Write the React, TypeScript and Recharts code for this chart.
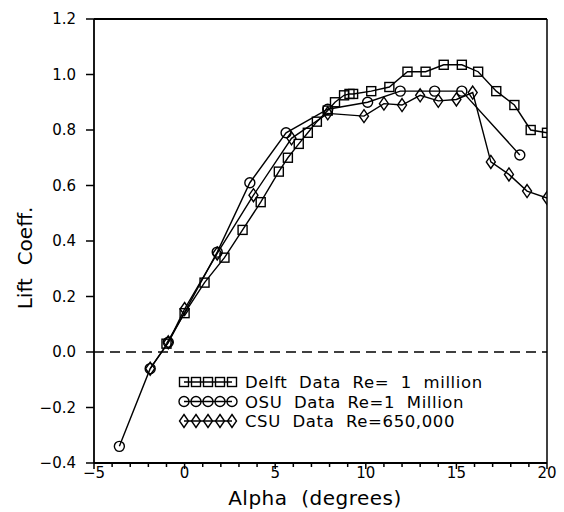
import React from 'react';
import { LineChart, Line, XAxis, YAxis, ReferenceLine } from 'recharts';

// angle of attack (deg) and lift coefficient
const delftAlpha = [-1, 0, 1.1, 2.2, 3.2, 4.2, 5.2, 5.7, 6.3, 6.8, 7.3, 7.9, 8.3, 8.8, 9.1, 9.3, 10.3, 11.3, 12.3, 13.3, 14.3, 15.3, 16.2, 17.2, 18.2, 19.1, 20.0];
const delftCl = [0.03, 0.14, 0.25, 0.34, 0.44, 0.54, 0.65, 0.7, 0.75, 0.79, 0.83, 0.87, 0.9, 0.925, 0.93, 0.93, 0.94, 0.955, 1.01, 1.01, 1.035, 1.035, 1.01, 0.94, 0.89, 0.8, 0.79];

const osuAlpha = [-3.6, -1.9, -0.9, 1.8, 3.6, 5.6, 7.9, 10.1, 11.9, 13.8, 15.3, 18.5];
const osuCl = [-0.34, -0.06, 0.035, 0.36, 0.61, 0.79, 0.875, 0.9, 0.94, 0.94, 0.94, 0.71];

const csuAlpha = [-1.9, -0.9, 0, 1.8, 3.8, 5.9, 7.9, 9.9, 11.0, 12.0, 13.0, 14.0, 15.0, 15.9, 16.9, 17.9, 18.9, 20.0];
const csuCl = [-0.06, 0.035, 0.155, 0.355, 0.565, 0.77, 0.86, 0.85, 0.895, 0.89, 0.925, 0.905, 0.91, 0.935, 0.685, 0.64, 0.58, 0.555];

const xTicks = Array.from({ length: 26 }, (_, i) => i - 5);
const yTicks = [-0.4, -0.2, 0, 0.2, 0.4, 0.6, 0.8, 1.0, 1.2];

const legendRows = [
  { shape: 'square', label: 'Delft  Data  Re=  1  million' },
  { shape: 'circle', label: 'OSU  Data  Re=1  Million' },
  { shape: 'diamond', label: 'CSU  Data  Re=650,000' },
];

const FONT = '"DejaVu Sans", sans-serif';
const INK = '#000';

const toRows = (xs: number[], ys: number[]) => xs.map((alpha, i) => ({ alpha, cl: ys[i] }));
const delft = toRows(delftAlpha, delftCl);
const osu = toRows(osuAlpha, osuCl);
const csu = toRows(csuAlpha, csuCl);

const minus = (s: string) => s.replace('-', '\u2212');

function Marker({ shape, cx, cy }: { shape: string; cx: number; cy: number }) {
  if (shape === 'square') {
    return <rect x={cx - 4.5} y={cy - 4.5} width={9} height={9} fill="none" stroke={INK} strokeWidth={1.4} />;
  }
  if (shape === 'circle') {
    return <circle cx={cx} cy={cy} r={5} fill="none" stroke={INK} strokeWidth={1.4} />;
  }
  return (
    <polygon
      points={`${cx},${cy - 6.5} ${cx + 4.5},${cy} ${cx},${cy + 6.5} ${cx - 4.5},${cy}`}
      fill="none"
      stroke={INK}
      strokeWidth={1.4}
    />
  );
}

const dotOf = (shape: string) => (p: any) => (
  <g key={`${shape}-${p.index}`}>
    <Marker shape={shape} cx={p.cx} cy={p.cy} />
  </g>
);

function XTick(props: any) {
  const { x, y, payload } = props;
  const v = payload.value as number;
  const major = v % 5 === 0;
  return (
    <g>
      <line x1={x} x2={x} y1={y} y2={y + (major ? 6 : 4)} stroke={INK} strokeWidth={1.5} />
      {major && (
        <text x={x} y={y + 15} textAnchor="middle" fontSize={15} fontFamily={FONT} fill={INK}>
          {minus(String(v))}
        </text>
      )}
    </g>
  );
}

function LegendBox() {
  const rowY = [382, 401.5, 421];
  const symX = [184, 196, 208, 220, 232];
  return (
    <>
      {legendRows.map((r, i) => (
        <g key={r.shape}>
          <line x1={symX[0]} x2={symX[4]} y1={rowY[i]} y2={rowY[i]} stroke={INK} strokeWidth={1.4} />
          {symX.map((sx) => (
            <Marker key={sx} shape={r.shape} cx={sx} cy={rowY[i]} />
          ))}
          <text
            x={245}
            y={rowY[i] + 6}
            fontSize={16.5}
            letterSpacing={0.6}
            fontFamily={FONT}
            fill={INK}
            xmlSpace="preserve"
            style={{ whiteSpace: 'pre' }}
          >
            {r.label}
          </text>
        </g>
      ))}
    </>
  );
}

export default function App() {
  return (
    <div style={{ position: 'absolute', left: 0, top: 0, width: 564, height: 512, background: '#fff' }}>
      <LineChart width={564} height={512} margin={{ top: 19, right: 17, bottom: 0, left: 0 }}>
        <XAxis
          dataKey="alpha"
          type="number"
          domain={[-5, 20]}
          ticks={xTicks}
          interval={0}
          allowDataOverflow
          height={49}
          tickSize={0}
          tickMargin={0}
          tickLine={false}
          tick={<XTick />}
          axisLine={{ stroke: INK, strokeWidth: 1.8 }}
        />
        <YAxis
          type="number"
          domain={[-0.4, 1.2]}
          ticks={yTicks}
          interval={0}
          allowDataOverflow
          width={94}
          tickSize={8}
          tickMargin={10}
          tickFormatter={(v: number) => minus(v.toFixed(1))}
          tick={{ fill: INK, fontSize: 15, fontFamily: FONT }}
          tickLine={{ stroke: INK, strokeWidth: 1.5 }}
          axisLine={{ stroke: INK, strokeWidth: 1.8 }}
        />
        <ReferenceLine y={1.2} stroke={INK} strokeWidth={1.8} />
        <ReferenceLine x={20} stroke={INK} strokeWidth={1.5} />
        <ReferenceLine y={0} stroke={INK} strokeWidth={1.5} strokeDasharray="10 6" />
        <Line data={delft} dataKey="cl" type="linear" stroke={INK} strokeWidth={1.4} dot={dotOf('square')} isAnimationActive={false} />
        <Line data={osu} dataKey="cl" type="linear" stroke={INK} strokeWidth={1.4} dot={dotOf('circle')} isAnimationActive={false} />
        <Line data={csu} dataKey="cl" type="linear" stroke={INK} strokeWidth={1.4} dot={dotOf('diamond')} isAnimationActive={false} />
      </LineChart>
      <svg width={564} height={512} style={{ position: 'absolute', left: 0, top: 0, pointerEvents: 'none' }}>
        <LegendBox />
        <text
          x={25}
          y={258}
          transform="rotate(-90 25 258)"
          textAnchor="middle"
          dominantBaseline="central"
          fontSize={20}
          fontFamily={FONT}
          fill={INK}
          xmlSpace="preserve"
          style={{ whiteSpace: 'pre' }}
        >
          Lift  Coeff.
        </text>
        <text
          x={315}
          y={505}
          textAnchor="middle"
          fontSize={20}
          fontFamily={FONT}
          fill={INK}
          letterSpacing={0.5}
          xmlSpace="preserve"
          style={{ whiteSpace: 'pre' }}
        >
          Alpha  (degrees)
        </text>
      </svg>
    </div>
  );
}
